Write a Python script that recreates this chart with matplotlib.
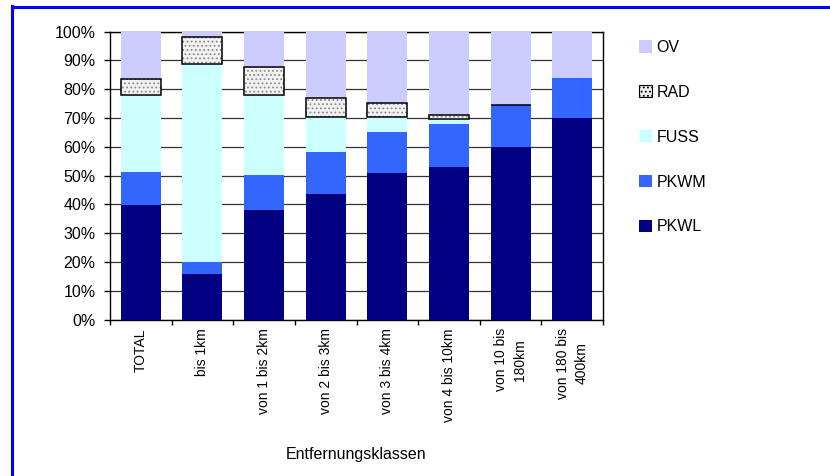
import matplotlib
matplotlib.use("Agg")
import matplotlib.pyplot as plt
import numpy as np
from matplotlib.patches import Patch
from matplotlib.lines import Line2D

plt.rcParams['font.family'] = ['Liberation Sans', 'DejaVu Sans']
plt.rcParams['hatch.linewidth'] = 0.8

categories = ["TOTAL", "bis 1km", "von 1 bis 2km", "von 2 bis 3km", "von 3 bis 4km",
              "von 4 bis 10km", "von 10 bis\n180km", "von 180 bis\n400km"]
PKWL = [39.8, 15.9, 38.1, 43.6, 50.8, 52.9, 60.1, 70.1]
PKWM = [11.4, 4.1, 12.1, 14.5, 14.3, 14.9, 14.4, 13.8]
FUSS = [26.8, 68.9, 27.8, 12.4, 5.4, 1.9, 0.0, 0.0]
RAD = [5.6, 9.1, 9.6, 6.4, 4.7, 1.5, 0.2, 0.0]
OV = [16.4, 2.0, 12.4, 23.1, 24.8, 28.8, 25.3, 16.1]

c_pkwl = '#000080'
c_pkwm = '#3366FF'
c_fuss = '#CCFFFF'
c_ov = '#CCCCFF'

fig = plt.figure(figsize=(8.3, 4.76), dpi=100)
ax = fig.add_axes([110/830, 1-319.7/476, (603-110)/830, 288/476])

x = np.arange(len(categories))
w = 0.65
b = np.zeros(len(categories))
ax.bar(x, PKWL, w, bottom=b, color=c_pkwl, zorder=3)
b += PKWL
ax.bar(x, PKWM, w, bottom=b, color=c_pkwm, zorder=3)
b += PKWM
ax.bar(x, FUSS, w, bottom=b, color=c_fuss, zorder=3)
b += FUSS
ax.bar(x, RAD, w, bottom=b, color='#f2f2f2', edgecolor='#8a8a8a', hatch='....', linewidth=0, zorder=3)
rad = np.array(RAD)
rad_mask = rad > 0
ax.bar(x[rad_mask], rad[rad_mask], w, bottom=b[rad_mask], fill=False,
       edgecolor='black', linewidth=1.1, zorder=4)
b += RAD
ax.bar(x, OV, w, bottom=b, color=c_ov, zorder=3)

ax.set_xlim(-0.5, len(categories) - 0.5)
ax.set_ylim(0, 100)
ax.set_yticks(np.arange(0, 101, 10))
ax.set_yticklabels([f"{v}%" for v in range(0, 101, 10)], fontsize=11.5)
ax.yaxis.grid(True, color='#333333', linewidth=0.9, zorder=0)
ax.set_axisbelow(True)

ax.set_xticks(x)
ax.set_xticklabels(categories, rotation=90, fontsize=10, va='top', ha='center', linespacing=1.4)
ax.set_xticks(np.arange(-0.5, len(categories), 1), minor=True)
ax.tick_params(axis='x', which='major', length=0, pad=6)
ax.tick_params(axis='x', which='minor', length=3.5, width=1, direction='out')
ax.tick_params(axis='y', length=4.5, width=1, direction='out', pad=6)

for s in ['left', 'bottom', 'right', 'top']:
    ax.spines[s].set_color('black')
    ax.spines[s].set_linewidth(1)

fig.text(356.5/830, 1-455/476, "Entfernungsklassen", ha='center', va='center', fontsize=11.5)

handles = [
    Patch(facecolor=c_ov, edgecolor='none'),
    Patch(facecolor='#eeeeee', edgecolor='black', hatch='....', linewidth=0.8),
    Patch(facecolor=c_fuss, edgecolor='none'),
    Patch(facecolor=c_pkwm, edgecolor='none'),
    Patch(facecolor=c_pkwl, edgecolor='none'),
]
labels = ["OV", "RAD", "FUSS", "PKWM", "PKWL"]
fig.legend(handles, labels, loc='upper left', bbox_to_anchor=(639/830, 1-40/476),
           frameon=False, fontsize=11.5, handlelength=0.8, handleheight=0.8,
           handletextpad=0.3, labelspacing=1.87, borderpad=0, borderaxespad=0)

# blue frame (left and top only)
fig.add_artist(Line2D([11.5/830, 11.5/830], [0, 1-6/476], color='#0000FF', linewidth=2.2,
                      transform=fig.transFigure))
fig.add_artist(Line2D([11.5/830, 1], [1-6.5/476, 1-6.5/476], color='#0000FF', linewidth=2.2,
                      transform=fig.transFigure))

fig.savefig("out.png", dpi=100)
